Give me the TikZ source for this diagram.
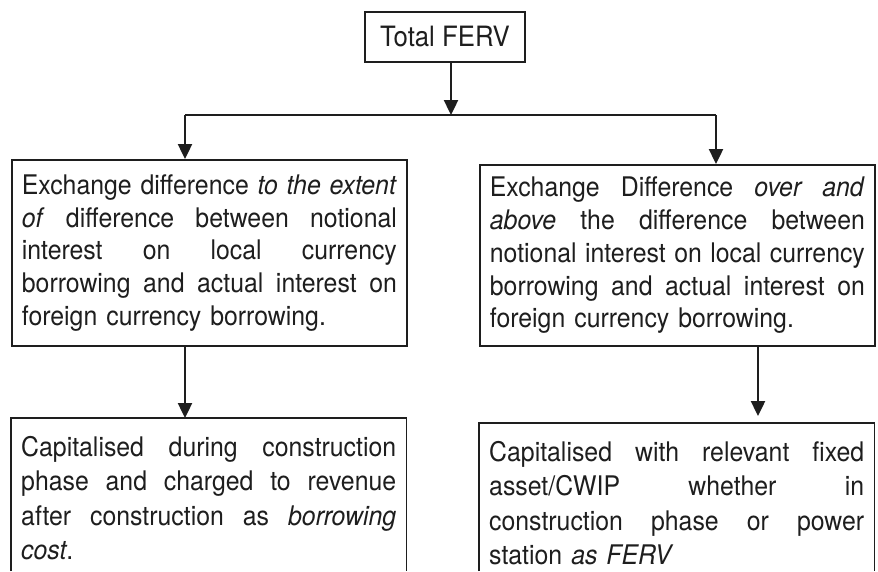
\documentclass[tikz,border=0pt]{standalone}
\usepackage{fontspec}
\setmainfont{TeX Gyre Heros}[FakeStretch=0.92]
\usetikzlibrary{arrows.meta}
\newcommand{\jline}[1]{{\spaceskip=0pt\xspaceskip=0pt\makebox[375pt][s]{#1}}\\}
\definecolor{ink}{HTML}{1E1E1E}
\begin{document}
\begin{tikzpicture}[x=1pt,y=-1pt,
  boxline/.style={draw=ink,line width=1.8pt},
  txt/.style={text=ink,font=\fontsize{27}{32.7}\selectfont,align=left,text width=375pt,inner xsep=10pt},
  txtb/.style={txt,font=\fontsize{27}{34.5}\selectfont},
  arr/.style={draw=ink,line width=2.4pt,-{Triangle[length=15pt,width=14pt]}},
  hline/.style={draw=ink,line width=1.3pt}]
\useasboundingbox (0,0) rectangle (878,571);
\fill[white] (0,0) rectangle (878,571);
\node[boxline,text=ink,font=\fontsize{28}{30}\selectfont,minimum width=160pt,minimum height=50pt,inner sep=0pt] (top) at (445,37) {Total FERV};
\node[txt,boxline,anchor=north west,minimum height=186pt] (L1) at (11,159) {%
\jline{Exchange difference \textit{to the extent}}%
\jline{\textit{of} difference between notional}%
\jline{interest on local currency}%
\jline{borrowing and actual interest on}%
foreign currency borrowing.};
\node[txt,boxline,anchor=north west,minimum height=181pt] (R1) at (479,164) {%
\jline{Exchange Difference \textit{over and}}%
\jline{\textit{above} the difference between}%
\jline{notional interest on local currency}%
\jline{borrowing and actual interest on}%
foreign currency borrowing.};
\node[txtb,anchor=north west,inner ysep=18pt] (L2) at (11,418) {%
\jline{Capitalised during construction}%
\jline{phase and charged to revenue}%
\jline{after construction as \textit{borrowing}}%
\textit{cost}.};
\node[txtb,anchor=north west,inner ysep=18pt] (R2) at (479,423) {%
\jline{Capitalised with relevant fixed}%
\jline{asset/CWIP whether in}%
\jline{construction phase or power}%
station \textit{as FERV}};
\coordinate (bot) at (0,571);
\draw[boxline] (L2.north west |- bot) -- (L2.north west) -- (L2.north east) -- (L2.north east |- bot);
\draw[boxline] (R2.north west |- bot) -- (R2.north west) -- (R2.north east) -- (R2.north east |- bot);
\coordinate (hl) at (185,115);
\coordinate (hr) at (716,115);
\coordinate (rl) at (758,345);
\draw[arr] ([xshift=6pt]top.south) -- ([xshift=6pt]top.south |- hl);
\draw[hline] (hl) -- (hr);
\draw[arr] (hl) -- (hl |- L1.north);
\draw[arr] (hr) -- (hr |- R1.north);
\draw[arr] (hl |- L1.south) -- (hl |- L2.north);
\draw[arr,shorten >=7pt] (rl |- R1.south) -- (rl |- R2.north);
\end{tikzpicture}
\end{document}
